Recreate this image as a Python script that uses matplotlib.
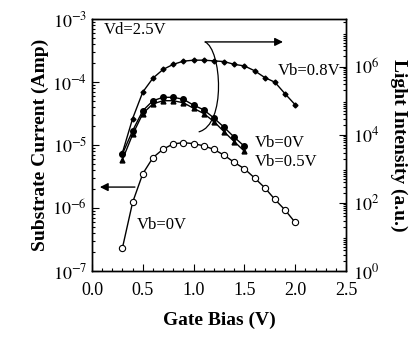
import matplotlib
matplotlib.use('Agg')
import matplotlib.pyplot as plt
from matplotlib.path import Path
from matplotlib.patches import PathPatch
from matplotlib.ticker import LogLocator, NullFormatter

plt.rcParams['font.family'] = 'serif'
plt.rcParams['font.serif'] = ['Liberation Serif', 'DejaVu Serif']
plt.rcParams['mathtext.fontset'] = 'stix'

# Substrate current (left axis), Vb=0V, open circles
vg_isub = [0.3, 0.4, 0.5, 0.6, 0.7, 0.8, 0.9, 1.0, 1.1, 1.2, 1.3, 1.4, 1.5, 1.6, 1.7, 1.8, 1.9, 2.0]
isub_vb0 = [2.34e-7, 1.23e-6, 3.5e-6, 6.3e-6, 8.6e-6, 1.04e-5, 1.09e-5, 1.05e-5, 9.7e-6,
            8.5e-6, 6.9e-6, 5.3e-6, 4.2e-6, 3.0e-6, 2.1e-6, 1.37e-6, 9.3e-7, 5.9e-7]

# Light intensity (right axis)
vg_light08 = [0.3, 0.4, 0.5, 0.6, 0.7, 0.8, 0.9, 1.0, 1.1, 1.2, 1.3, 1.4, 1.5, 1.6, 1.7, 1.8, 1.9, 2.0]
light_vb08 = [3.0e3, 3.0e4, 1.8e5, 4.6e5, 8.3e5, 1.17e6, 1.45e6, 1.55e6, 1.55e6,
              1.48e6, 1.41e6, 1.17e6, 1.05e6, 7.6e5, 4.8e5, 3.5e5, 1.6e5, 7.6e4]
vg_light = [0.3, 0.4, 0.5, 0.6, 0.7, 0.8, 0.9, 1.0, 1.1, 1.2, 1.3, 1.4, 1.5]
light_vb0 = [2.75e3, 1.32e4, 5.1e4, 1.0e5, 1.26e5, 1.26e5, 1.1e5, 7.4e4, 5.4e4, 3.1e4, 1.66e4, 8.5e3, 4.6e3]
light_vb05 = [1.86e3, 1.02e4, 4.2e4, 8.1e4, 1.0e5, 1.0e5, 8.7e4, 6.0e4, 4.2e4, 2.45e4, 1.23e4, 6.3e3, 3.3e3]

left_ticks = [1e-7, 1e-6, 1e-5, 1e-4, 1e-3]
left_labels = ['$10^{-7}$', '$10^{-6}$', '$10^{-5}$', '$10^{-4}$', '$10^{-3}$']
right_ticks = [1e0, 1e2, 1e4, 1e6]
right_labels = ['$10^{0}$', '$10^{2}$', '$10^{4}$', '$10^{6}$']
x_ticks = [0.0, 0.5, 1.0, 1.5, 2.0, 2.5]

fig = plt.figure(figsize=(4.17, 3.39), dpi=100)
ax = fig.add_axes([0.2206, 0.2006, 0.6091, 0.7434])
ax2 = ax.twinx()

# curva da corrente de substrato
ax.plot(vg_isub, isub_vb0, '-o', color='black', mfc='white', mec='black',
        ms=4.5, lw=1.0, mew=0.8)
ax.set_yscale('log')
ax.set_ylim(1e-7, 1e-3)
ax.set_xlim(0, 2.5)

# curvas de intensidade de luz
ax2.plot(vg_light08, light_vb08, '-D', color='black', ms=2.5, lw=1.0)
ax2.plot(vg_light, light_vb0, '-o', color='black', ms=4, lw=1.0)
ax2.plot(vg_light, light_vb05, '-^', color='black', ms=3.5, lw=1.0)
ax2.set_yscale('log')
ax2.set_ylim(1, 10 ** 7.4)

ax.set_yticks(left_ticks)
ax.set_yticklabels(left_labels)
ax.yaxis.set_minor_locator(LogLocator(base=10, subs=range(2, 10), numticks=20))
ax.yaxis.set_minor_formatter(NullFormatter())
ax2.set_yticks(right_ticks)
ax2.set_yticklabels(right_labels)
ax2.yaxis.set_minor_locator(LogLocator(base=10, subs=range(2, 10), numticks=20))
ax2.yaxis.set_minor_formatter(NullFormatter())
ax.set_xticks(x_ticks)
ax.set_xticklabels(['%.1f' % v for v in x_ticks])
ax.set_xticks([i / 10 for i in range(26)], minor=True)

ax.tick_params(which='both', direction='in', labelsize=13, width=0.8)
ax.tick_params(which='major', length=5)
ax.tick_params(which='minor', length=2.5)
ax.tick_params(axis='x', which='major', pad=8)
ax2.tick_params(which='both', direction='in', labelsize=13, width=0.8)
ax2.tick_params(which='major', length=5, pad=5)
ax2.tick_params(which='minor', length=2.5)
for a in (ax, ax2):
    for s in a.spines.values():
        s.set_linewidth(1.0)

ax.set_xlabel('Gate Bias (V)', fontsize=14, fontweight='bold', labelpad=9)
ax.set_ylabel('Substrate Current (Amp)', fontsize=14, fontweight='bold', labelpad=2)
ax2.set_ylabel('Light Intensity (a.u.)', fontsize=14, fontweight='bold',
               rotation=270, labelpad=20)

# textos
tr = ax.transAxes
ax.text(0.045, 0.955, 'Vd=2.5V', transform=tr, fontsize=12, va='center')
ax.text(0.73, 0.795, 'Vb=0.8V', transform=tr, fontsize=12, va='center')
ax.text(0.64, 0.508, 'Vb=0V', transform=tr, fontsize=12, va='center')
ax.text(0.64, 0.433, 'Vb=0.5V', transform=tr, fontsize=12, va='center')
ax.text(0.178, 0.183, 'Vb=0V', transform=tr, fontsize=12, va='center')

# setas
ax.annotate('', xy=(0.752, 0.909), xytext=(0.445, 0.909), xycoords=tr,
            arrowprops=dict(arrowstyle='-|>', color='black', lw=1.0,
                            mutation_scale=12, shrinkA=0, shrinkB=0))
ax.annotate('', xy=(0.031, 0.333), xytext=(0.169, 0.333), xycoords=tr,
            arrowprops=dict(arrowstyle='-|>', color='black', lw=1.0,
                            mutation_scale=12, shrinkA=0, shrinkB=0))
curva = Path([(0.445, 0.909), (0.51, 0.88), (0.53, 0.58), (0.42, 0.552)],
             [Path.MOVETO, Path.CURVE4, Path.CURVE4, Path.CURVE4])
ax.add_patch(PathPatch(curva, transform=tr, fill=False, lw=0.9, color='black'))

fig.savefig('out.png', dpi=100)
